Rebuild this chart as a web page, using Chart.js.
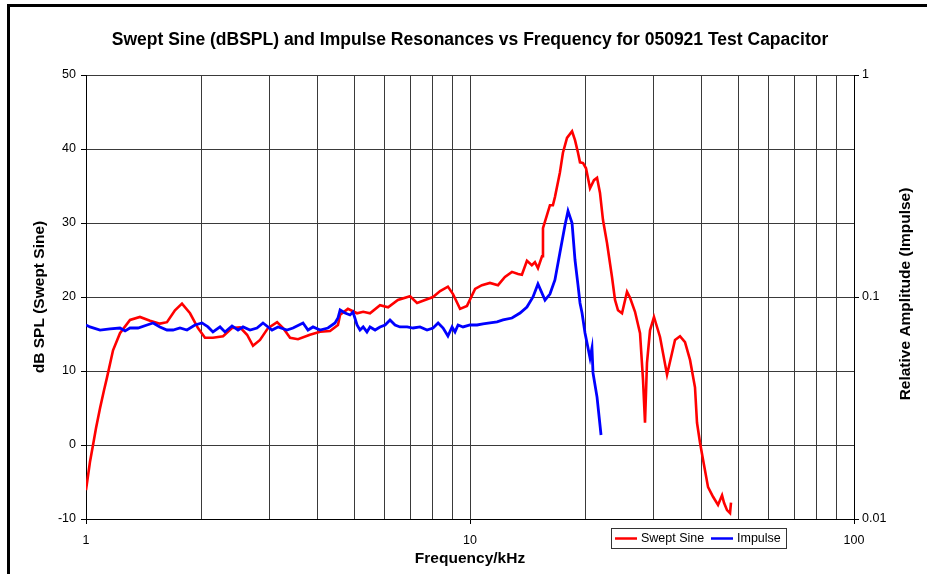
<!DOCTYPE html>
<html><head><meta charset="utf-8">
<script src="https://cdn.jsdelivr.net/npm/chart.js@4.4.1/dist/chart.umd.min.js"></script>
<style>html,body{margin:0;padding:0;background:#fff;overflow:hidden}#wrap{position:relative;width:927px;height:574px;background:#fff}</style>
</head><body><div id="wrap"><canvas id="c" width="927" height="574"></canvas></div>
<script>
// ---- data ----
const sweptFreq = [1.000,1.024,1.043,1.062,1.088,1.114,1.134,1.176,1.226,1.302,
1.382,1.468,1.558,1.625,1.705,1.778,1.866,1.957,2.041,2.141,
2.275,2.400,2.518,2.627,2.722,2.839,2.978,3.145,3.260,3.400,
3.565,3.830,4.070,4.320,4.530,4.590,4.810,5.080,5.270,5.490,
5.830,6.120,6.490,6.980,7.280,7.730,8.010,8.360,8.760,9.030,
9.420,9.820,10.31,10.74,11.27,11.83,12.33,12.86,13.34,13.65,
14.07,14.49,14.76,15.03,15.40,15.49,15.87,16.15,16.44,16.64,
17.14,17.46,17.89,18.44,18.77,19.11,19.34,19.70,20.05,20.54,
21.03,21.42,21.80,22.20,22.74,23.43,23.86,24.29,24.88,25.64,
26.11,26.90,27.72,28.22,28.56,28.90,29.43,30.14,31.25,32.59,
33.57,34.19,35.23,36.30,37.41,38.54,39.01,39.72,40.45,41.68,
42.95,44.25,45.33,45.87,46.70,47.55,47.83];
const sweptDb = [-6.1,-2.3,0.0,2.3,5.0,7.4,9.1,12.8,15.1,16.9,
17.3,16.8,16.4,16.6,18.2,19.1,17.8,15.8,14.5,14.5,
14.7,15.8,15.9,14.9,13.4,14.2,15.8,16.6,15.8,14.5,
14.3,14.9,15.3,15.4,16.2,17.6,18.4,17.8,18.0,17.8,
18.9,18.6,19.6,20.1,19.2,19.7,20.0,20.8,21.4,20.4,
18.4,18.8,21.1,21.6,21.9,21.6,22.7,23.4,23.1,23.0,
24.9,24.3,24.7,23.9,25.5,29.3,31.1,32.4,32.4,33.5,
36.8,39.5,41.5,42.4,41.2,39.5,38.2,38.1,37.4,34.7,
35.8,36.1,34.1,30.4,27.3,22.7,19.6,18.2,17.8,20.7,
19.9,18.0,15.1,8.8,3.0,11.1,15.5,17.3,14.6,9.5,
12.4,14.2,14.7,13.9,11.5,7.8,3.0,0.3,-2.0,-5.7,
-7.0,-8.1,-6.8,-7.8,-8.8,-9.2,-7.8];
const impulseFreq = [1.000,1.024,1.088,1.155,1.226,1.264,1.302,1.366,1.442,1.495,
1.558,1.625,1.685,1.757,1.832,1.922,2.005,2.078,2.141,2.234,
2.301,2.400,2.488,2.564,2.674,2.788,2.890,3.051,3.162,3.337,
3.460,3.674,3.785,3.901,4.070,4.267,4.451,
4.530,4.590,4.727,4.870,4.959,5.080,5.170,5.270,5.390,5.490,
5.660,5.830,6.010,6.190,6.380,6.570,6.860,7.110,7.410,7.730,
8.010,8.260,8.510,8.760,8.980,9.140,9.310,9.590,10.00,10.43,
10.81,11.27,11.76,12.19,12.86,13.50,14.07,
14.59,15.03,15.68,16.15,16.64,17.14,17.68,18.00,18.44,18.77,
19.11,19.34,19.58,19.93,20.54,20.78,20.91,21.42,21.94];
const impulseAmp = [0.0748,0.0733,0.0710,0.0718,0.0725,0.0703,0.0725,0.0725,0.0748,0.0764,
0.0733,0.0710,0.0710,0.0725,0.0710,0.0748,0.0764,0.0733,0.0696,0.0733,
0.0696,0.0741,0.0710,0.0733,0.0710,0.0725,0.0764,0.0710,0.0733,0.0710,
0.0725,0.0764,0.0710,0.0733,0.0710,0.0725,0.0764,
0.0804,0.0874,0.0847,0.0830,0.0856,0.0748,0.0710,0.0733,0.0696,0.0733,
0.0710,0.0733,0.0748,0.0788,0.0748,0.0733,0.0733,0.0725,0.0733,0.0710,
0.0725,0.0764,0.0725,0.0667,0.0733,0.0696,0.0748,0.0733,0.0748,0.0748,
0.0756,0.0764,0.0772,0.0788,0.0804,0.0847,0.0901,
0.1000,0.1144,0.0969,0.1031,0.1193,0.1579,0.2110,0.2440,0.2154,0.1468,
0.1132,0.0940,0.0847,0.0688,0.0531,0.0589,0.0455,0.0354,0.0239];
const xTicks = [1,2,3,4,5,6,7,8,9,10,20,30,40,50,60,70,80,90,100];
const xTickLabels = ['1','10','100'];
const yLeftTicks = [-10,0,10,20,30,40,50];
const yRightTicks = [0.01,0.1,1];
const seriesNames = ['Swept Sine','Impulse'];
const titleText = 'Swept Sine (dBSPL) and Impulse Resonances vs Frequency for 050921 Test Capacitor';
const xTitle = 'Frequency/kHz';
const yLeftTitle = 'dB SPL (Swept Sine)';
const yRightTitle = 'Relative Amplitude (Impulse)';

// ---- chart ----
const FONT = "'Liberation Sans', Arial, sans-serif";
const sweptPts = sweptFreq.map((f,i)=>({x:f,y:sweptDb[i]}));
const impulsePts = impulseFreq.map((f,i)=>({x:f,y:impulseAmp[i]}));
const GRID = '#3a3a3a';
const AXIS_TITLE_SIZE = 15.5;

const framePlugin = {
  id:'frame',
  afterDraw(chart){
    const ctx = chart.ctx, a = chart.chartArea;
    ctx.save();
    // right axis title (reads bottom to top)
    ctx.font = 'bold ' + AXIS_TITLE_SIZE + 'px ' + FONT;
    ctx.fillStyle = '#000';
    ctx.textAlign = 'center'; ctx.textBaseline = 'middle';
    ctx.translate(906, (a.top + a.bottom)/2 - 3);
    ctx.rotate(-Math.PI/2);
    ctx.fillText(yRightTitle, 0, 0);
    ctx.restore();
    // legend
    ctx.save();
    const lx = 611, ly = 528, lw = 175, lh = 20;
    ctx.fillStyle = '#fff'; ctx.fillRect(lx, ly, lw, lh);
    ctx.strokeStyle = '#333'; ctx.lineWidth = 1;
    ctx.strokeRect(lx+0.5, ly+0.5, lw, lh);
    ctx.font = '12.5px ' + FONT; ctx.textBaseline = 'middle'; ctx.textAlign = 'left';
    const ds = chart.data.datasets;
    const items = [{x:615, tx:641}, {x:711, tx:737}];
    items.forEach((it, i) => {
      ctx.strokeStyle = ds[i].borderColor; ctx.lineWidth = 2.5;
      ctx.beginPath(); ctx.moveTo(it.x, ly+10.5); ctx.lineTo(it.x+22, ly+10.5); ctx.stroke();
      ctx.fillStyle = '#000'; ctx.fillText(ds[i].label, it.tx, ly+11);
    });
    ctx.restore();
    // outer frame
    ctx.save();
    ctx.fillStyle = '#000';
    ctx.fillRect(7, 4, 927-7, 3);
    ctx.fillRect(7, 4, 3, 574-4);
    ctx.restore();
  }
};

new Chart(document.getElementById('c'), {
  type: 'scatter',
  data: { datasets: [
    { label: seriesNames[0], data: sweptPts, yAxisID: 'y', showLine: true, borderColor: '#ff0000', backgroundColor: '#ff0000',
      borderWidth: 2.6, pointRadius: 0, tension: 0, order: 2 },
    { label: seriesNames[1], data: impulsePts, yAxisID: 'y1', showLine: true, borderColor: '#0000ff', backgroundColor: '#0000ff',
      borderWidth: 2.8, pointRadius: 0, tension: 0, order: 1 }
  ]},
  options: {
    responsive: false, animation: false, devicePixelRatio: 1,
    layout: { padding: 0 },
    plugins: {
      legend: { display: false }, tooltip: { enabled: false },
      title: { display: true, text: titleText, fullSize: false, color: '#000',
        font: { family: FONT, size: 17.5, weight: 'bold' }, padding: { top: 30, bottom: 24 } }
    },
    scales: {
      x: {
        type: 'logarithmic', position: 'bottom', min: 1, max: 100,
        afterBuildTicks: s => { s.ticks = xTicks.map(v => ({ value: v })); },
        afterFit: s => { s.height = 55; },
        ticks: { autoSkip: false, maxRotation: 0, minRotation: 0, padding: 9, color: '#000',
          font: { family: FONT, size: 12.5 },
          callback: v => xTickLabels.includes(String(v)) ? String(v) : '' },
        grid: { color: GRID, lineWidth: 1, tickLength: 5,
          tickColor: c => (c.tick && xTickLabels.includes(String(c.tick.value))) ? '#000' : 'rgba(0,0,0,0)' },
        border: { display: true, color: '#000', width: 1 },
        title: { display: true, text: xTitle, color: '#000', font: { family: FONT, size: AXIS_TITLE_SIZE, weight: 'bold' },
          padding: { top: 0, bottom: 6 } }
      },
      y: {
        type: 'linear', position: 'left', min: -10, max: 50,
        afterBuildTicks: s => { s.ticks = yLeftTicks.map(v => ({ value: v })); },
        afterFit: s => { s.width = 86; },
        ticks: { padding: 5, color: '#000', font: { family: FONT, size: 12.5 } },
        grid: { color: GRID, lineWidth: 1, tickLength: 5, tickColor: '#000' },
        border: { display: true, color: '#000', width: 1 },
        title: { display: true, text: yLeftTitle, color: '#000', font: { family: FONT, size: AXIS_TITLE_SIZE, weight: 'bold' },
          padding: { top: 30, bottom: 0 } }
      },
      y1: {
        type: 'logarithmic', position: 'right', min: 0.01, max: 1,
        afterBuildTicks: s => { s.ticks = yRightTicks.map(v => ({ value: v })); },
        afterFit: s => { s.width = 73; },
        ticks: { padding: 3, color: '#000', font: { family: FONT, size: 12.5 }, callback: v => String(v) },
        grid: { drawOnChartArea: false, tickLength: 5, tickColor: '#000' },
        border: { display: true, color: '#000', width: 1 }
      }
    }
  },
  plugins: [framePlugin]
});
</script></body></html>
